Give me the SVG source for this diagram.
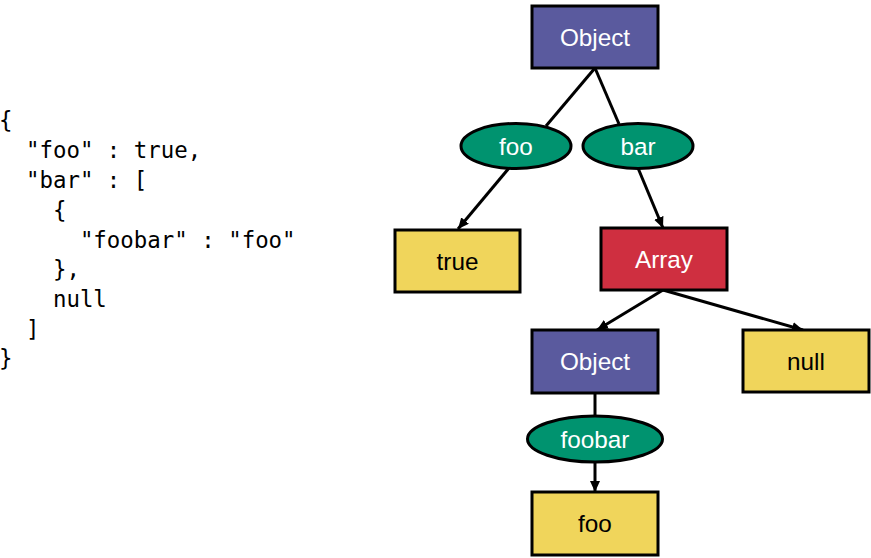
<svg xmlns="http://www.w3.org/2000/svg" width="871" height="558" viewBox="0 0 871 558">
<defs>
<style>
.box{stroke:#000;stroke-width:3}
.obj{fill:#5a5a9e}
.lit{fill:#f0d55b}
.arr{fill:#cf2f40}
.key{fill:#00936f;stroke:#000;stroke-width:3}
.lbl{font-family:"Liberation Sans",Arial,sans-serif;font-size:24.3px;text-anchor:middle}
.w{fill:#fff}
.k{fill:#000}
.edge{stroke:#000;stroke-width:3;fill:none}
.code{font-family:"DejaVu Sans Mono",monospace;font-size:22.4px;fill:#000;white-space:pre}
</style>
<marker id="ah" markerUnits="userSpaceOnUse" markerWidth="12" markerHeight="10" refX="11" refY="5" orient="auto">
<path d="M0,0 L11,5 L0,10 Z" fill="#000"/>
</marker>
</defs>
<rect width="871" height="558" fill="#fff"/>
<g id="json-source" class="code">
<text x="-1" y="128" xml:space="preserve">{</text>
<text x="-1" y="158" xml:space="preserve">  "foo" : true,</text>
<text x="-1" y="188" xml:space="preserve">  "bar" : [</text>
<text x="-1" y="218" xml:space="preserve">    {</text>
<text x="-1" y="248" xml:space="preserve">      "foobar" : "foo"</text>
<text x="-1" y="277" xml:space="preserve">    },</text>
<text x="-1" y="307" xml:space="preserve">    null</text>
<text x="-1" y="337" xml:space="preserve">  ]</text>
<text x="-1" y="366" xml:space="preserve">}</text>
</g>
<g id="connectors">
<line class="edge" x1="595" y1="68" x2="546" y2="126"/>
<line class="edge" x1="595" y1="68" x2="619" y2="124"/>
<line class="edge" x1="509" y1="168" x2="458" y2="229" marker-end="url(#ah)"/>
<line class="edge" x1="638" y1="168" x2="663" y2="228" marker-end="url(#ah)"/>
<line class="edge" x1="663" y1="290" x2="597" y2="330" marker-end="url(#ah)"/>
<line class="edge" x1="663" y1="290" x2="803" y2="330" marker-end="url(#ah)"/>
<line class="edge" x1="595" y1="393" x2="595" y2="416"/>
<line class="edge" x1="595" y1="462" x2="595" y2="492" marker-end="url(#ah)"/>
</g>
<g id="root-object">
<rect class="box obj" x="532" y="6" width="126" height="62"/>
<text class="lbl w" x="595" y="45.5">Object</text>
</g>
<g id="key-foo">
<ellipse class="key" cx="516" cy="146" rx="55" ry="22.5"/>
<text class="lbl w" x="516" y="154.5">foo</text>
</g>
<g id="key-bar">
<ellipse class="key" cx="638" cy="146" rx="55" ry="22.5"/>
<text class="lbl w" x="638" y="154.5">bar</text>
</g>
<g id="value-true">
<rect class="box lit" x="395" y="230" width="125" height="62"/>
<text class="lbl k" x="457.5" y="269.5">true</text>
</g>
<g id="array">
<rect class="box arr" x="601" y="228" width="126" height="62"/>
<text class="lbl w" x="664" y="267.5">Array</text>
</g>
<g id="inner-object">
<rect class="box obj" x="532" y="330" width="126" height="63"/>
<text class="lbl w" x="595" y="370">Object</text>
</g>
<g id="value-null">
<rect class="box lit" x="743" y="330" width="126" height="62"/>
<text class="lbl k" x="806" y="369.5">null</text>
</g>
<g id="key-foobar">
<ellipse class="key" cx="595" cy="439" rx="67.5" ry="23"/>
<text class="lbl w" x="595" y="447.5">foobar</text>
</g>
<g id="value-foo">
<rect class="box lit" x="532" y="492" width="126" height="63"/>
<text class="lbl k" x="595" y="532">foo</text>
</g>
</svg>
